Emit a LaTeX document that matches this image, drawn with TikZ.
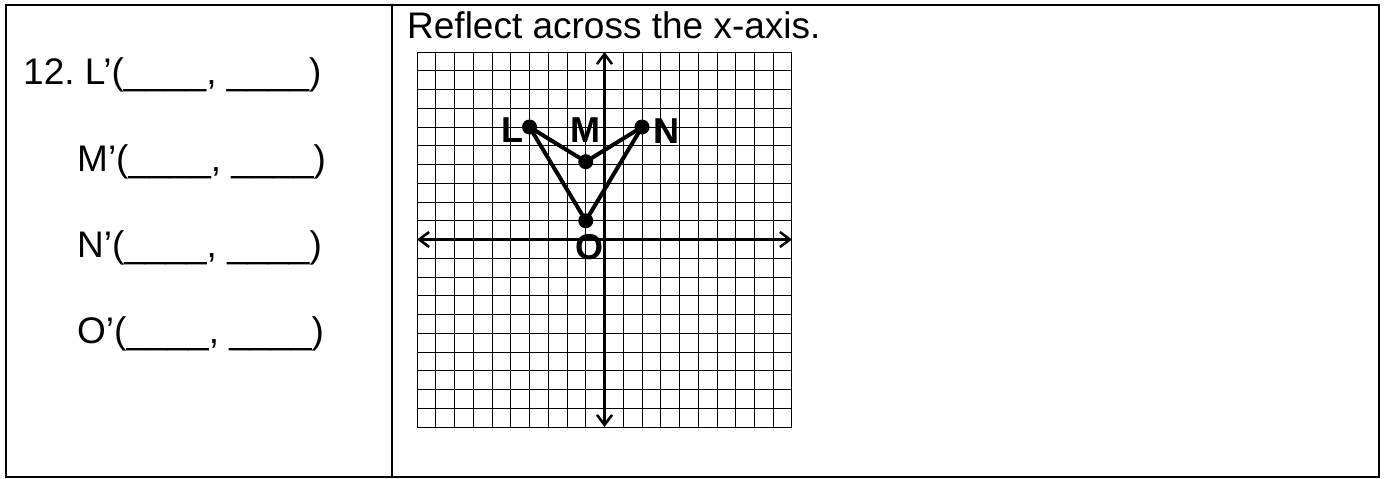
\documentclass[tikz,border=0pt]{standalone}
\usepackage{fontspec}
\setmainfont{Liberation Sans}
\usetikzlibrary{arrows.meta,positioning}

\tikzset{
  answer/.style={anchor=base west, inner sep=0pt, font=\fontsize{37}{44}\selectfont},
  ptlabel/.style={inner sep=0pt, font=\fontsize{36}{43}\selectfont\bfseries},
  vertex/.style={circle, fill=black, inner sep=0pt, minimum size=15pt},
  side/.style={line width=4pt, line cap=round},
  axis/.style={line width=2.5pt,
    {Straight Barb[length=10pt,width=15pt]}-{Straight Barb[length=10pt,width=15pt]}},
}

\begin{document}
\frenchspacing
\begin{tikzpicture}[x=1pt, y=-1pt]
  \useasboundingbox (0,0) rectangle (1384,479);
  % table
  \draw[line width=2pt] (6,4.5) rectangle (1378.5,476.5);
  \draw[line width=1.5pt] (392,4.5) -- (392,476.5);
  % left column
  \node[answer] (ansL) at (23,84) {12. L’(\_\_\_\_, \_\_\_\_)};
  \node[answer] (ansM) at (77,171) {M’(\_\_\_\_, \_\_\_\_)};
  \node[answer] (ansN) at (77,257) {N’(\_\_\_\_, \_\_\_\_)};
  \node[answer] (ansO) at (77,343) {O’(\_\_\_\_, \_\_\_\_)};
  % right column
  \node[answer] (task) at (407,38.5) {Reflect across the x-axis.};
  \begin{scope}[shift={(604.5,239.5)}, x=18.75pt, y=18.75pt]
    \draw[line width=1pt, step=1] (-10,-10) grid (10,10);
    \draw[axis] (-10,0) -- (10,0);
    \draw[axis] (0,-10) -- (0,10);
    \node[vertex] (L) at (-4,6) {};
    \node[vertex] (M) at (-1,4.15) {};
    \node[vertex] (N) at (2,6) {};
    \node[vertex] (O) at (-1,1) {};
  \end{scope}
  \draw[side] (L) -- (M);
  \draw[side] (M) -- (N);
  \draw[side] (N) -- (O);
  \draw[side] (O) -- (L);
  \node[ptlabel, left=-2pt of L, yshift=-3pt] (labL) {L};
  \node[ptlabel, above=11pt of M] (labM) {M};
  \node[ptlabel, right=4pt of N, yshift=-4pt] (labN) {N};
  \node[ptlabel, below=6pt of O, xshift=4pt] (labO) {O};
\end{tikzpicture}
\end{document}
